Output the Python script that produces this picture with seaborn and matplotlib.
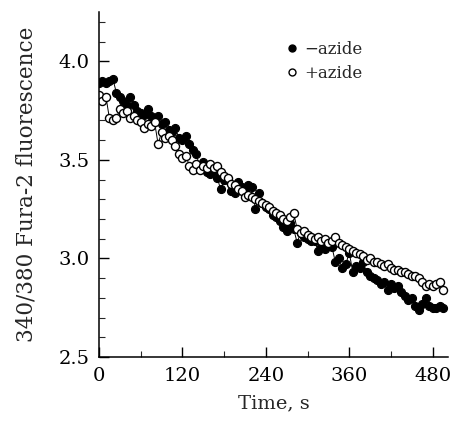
import matplotlib
matplotlib.use("Agg")
import matplotlib.pyplot as plt
from matplotlib.lines import Line2D
from matplotlib.ticker import MultipleLocator
import numpy as np
import pandas as pd
import seaborn as sns

time_s = list(range(0, 500, 5))

minus_azide = [
    3.89, 3.90, 3.89, 3.90, 3.91, 3.84, 3.82, 3.80, 3.78, 3.82,
    3.78, 3.75, 3.74, 3.73, 3.76, 3.72, 3.70, 3.72, 3.68, 3.69,
    3.65, 3.64, 3.66, 3.61, 3.60, 3.62, 3.58, 3.55, 3.53, 3.46,
    3.49, 3.44, 3.43, 3.45, 3.41, 3.35, 3.40, 3.40, 3.34, 3.33,
    3.39, 3.36, 3.35, 3.37, 3.36, 3.25, 3.33, 3.28, 3.26, 3.25,
    3.22, 3.21, 3.19, 3.16, 3.14, 3.18, 3.15, 3.08, 3.13, 3.11,
    3.10, 3.09, 3.09, 3.04, 3.06, 3.05, 3.07, 3.06, 2.98, 3.00,
    2.95, 2.97, 3.03, 2.93, 2.96, 2.95, 2.98, 2.93, 2.91, 2.90,
    2.89, 2.87, 2.88, 2.84, 2.87, 2.85, 2.86, 2.83, 2.81, 2.79,
    2.80, 2.76, 2.74, 2.77, 2.80, 2.76, 2.75, 2.75, 2.76, 2.75,
]

plus_azide = [
    3.83, 3.80, 3.82, 3.71, 3.70, 3.71, 3.76, 3.74, 3.75, 3.71,
    3.72, 3.70, 3.69, 3.66, 3.68, 3.67, 3.69, 3.58, 3.64, 3.61,
    3.62, 3.60, 3.57, 3.53, 3.51, 3.52, 3.47, 3.45, 3.48, 3.45,
    3.47, 3.46, 3.48, 3.46, 3.47, 3.44, 3.42, 3.41, 3.38, 3.37,
    3.35, 3.34, 3.31, 3.32, 3.31, 3.30, 3.29, 3.28, 3.27, 3.26,
    3.24, 3.23, 3.22, 3.20, 3.19, 3.21, 3.23, 3.15, 3.13, 3.14,
    3.12, 3.11, 3.10, 3.11, 3.09, 3.10, 3.08, 3.09, 3.11, 3.08,
    3.07, 3.06, 3.05, 3.04, 3.03, 3.02, 3.01, 2.99, 3.00, 2.98,
    2.98, 2.97, 2.96, 2.97, 2.95, 2.94, 2.94, 2.93, 2.93, 2.92,
    2.91, 2.91, 2.90, 2.88, 2.86, 2.87, 2.86, 2.87, 2.88, 2.84,
]

series_labels = ["\u2212azide", "+azide"]
x_ticks = [0, 120, 240, 360, 480]
y_ticks = [2.5, 3.0, 3.5, 4.0]

sns.set_style("ticks")
plt.rcParams["font.family"] = ["DejaVu Serif"]

fig = plt.figure(figsize=(4.51, 4.25), dpi=100)
ax = fig.add_axes([99 / 451, 1 - 357 / 425, (448 - 99) / 451, (357 - 12) / 425])

sns.lineplot(x=time_s, y=minus_azide, ax=ax, color="black", linewidth=0.7,
             marker="o", markersize=5.8, markerfacecolor="black",
             markeredgecolor="black", markeredgewidth=0.8)
sns.lineplot(x=time_s, y=plus_azide, ax=ax, color="black", linewidth=0.7,
             marker="o", markersize=5.8, markerfacecolor="white",
             markeredgecolor="black", markeredgewidth=1.0)

ax.set_xlim(0, 502)
ax.set_ylim(2.5, 4.25)
ax.set_xticks(x_ticks)
ax.set_xticklabels([str(v) for v in x_ticks])
ax.set_yticks(y_ticks)
ax.set_yticklabels([f"{v:.1f}" for v in y_ticks])
ax.xaxis.set_minor_locator(MultipleLocator(60))
ax.yaxis.set_minor_locator(MultipleLocator(0.1))
ax.tick_params(axis="both", which="major", direction="in", length=7, width=1,
               labelsize=14, pad=7, colors="black")
ax.tick_params(axis="both", which="minor", direction="in", length=4, width=0.8)
for s in ["top", "right"]:
    ax.spines[s].set_visible(False)
for s in ["left", "bottom"]:
    ax.spines[s].set_linewidth(1.1)
    ax.spines[s].set_color("black")

ax.set_xlabel("Time, s", fontsize=14, labelpad=7)
ax.set_ylabel("340/380 Fura-2 fluorescence", fontsize=15.5, labelpad=15)

handles = [
    Line2D([], [], linestyle="none", marker="o", markersize=5,
           markerfacecolor="black", markeredgecolor="black"),
    Line2D([], [], linestyle="none", marker="o", markersize=5,
           markerfacecolor="white", markeredgecolor="black"),
]
leg = ax.legend(handles, series_labels, loc="upper left",
                bbox_to_anchor=(0.48, 0.96), frameon=False,
                prop={"size": 12}, handletextpad=0.15,
                labelspacing=0.45, handlelength=1.2)

fig.savefig("out.png", dpi=100)
